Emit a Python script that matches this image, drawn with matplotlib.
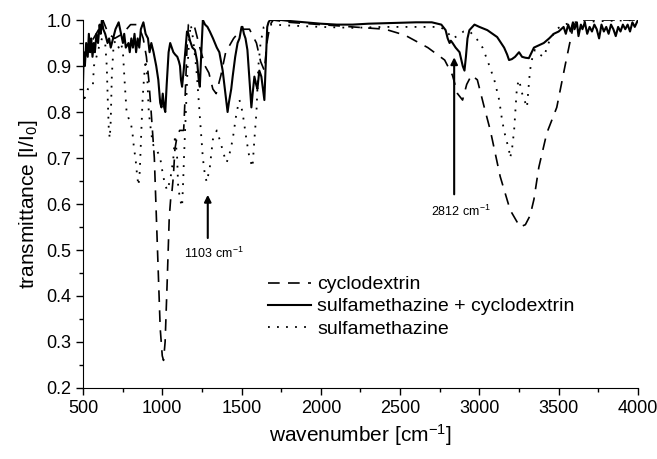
# IR spectra: cyclodextrin, sulfamethazine and their complex

import numpy as np
import matplotlib.pyplot as plt

plt.rcParams['font.family'] = ['Liberation Sans', 'DejaVu Sans']
plt.rcParams['mathtext.default'] = 'regular'

# cyclodextrin (dashed)
cd_x = [500, 550, 600, 625, 660, 700, 750, 800, 840, 870, 880, 900, 915, 930, 950, 970,
        987, 1000, 1008, 1018, 1030, 1044, 1055, 1062, 1070, 1080, 1095, 1110, 1125, 1135,
        1145, 1155, 1165, 1200, 1237, 1270, 1294, 1319, 1340, 1370, 1400, 1450, 1500, 1550,
        1594, 1620, 1644, 1660, 1680, 1700, 1800, 2000, 2200, 2406, 2531, 2675, 2781, 2830,
        2862, 2894, 2920, 2950, 2987, 3031, 3069, 3131, 3194, 3256, 3290, 3320, 3344, 3375,
        3425, 3488, 3540, 3594, 3650, 3800, 4000]
cd_y = [0.92, 0.95, 0.98, 1.0, 0.97, 0.96, 0.97, 0.99, 0.99, 0.97, 0.96, 0.92, 0.87, 0.80,
        0.70, 0.50, 0.33, 0.27, 0.26, 0.30, 0.42, 0.57, 0.62, 0.63, 0.66, 0.72, 0.75, 0.76,
        0.76, 0.76, 0.84, 0.93, 0.99, 0.99, 0.94, 0.90, 0.885, 0.85, 0.84, 0.88, 0.93, 0.96,
        0.98, 0.98, 0.95, 0.91, 0.89, 0.95, 0.99, 1.0, 0.995, 0.99, 0.985, 0.98, 0.967, 0.94,
        0.913, 0.88, 0.84, 0.826, 0.86, 0.88, 0.87, 0.81, 0.76, 0.66, 0.587, 0.55, 0.555,
        0.575, 0.61, 0.68, 0.754, 0.81, 0.9, 0.99, 1.0, 1.0, 1.0]

# sulfamethazine + cyclodextrin (solid)
mix_x = [500, 505, 512, 520, 530, 537, 545, 552, 560, 568, 575, 585, 595, 605, 612, 619,
         628, 640, 655, 665, 675, 690, 705, 725, 740, 752, 760, 770, 787, 795, 805, 815,
         825, 835, 845, 855, 865, 881, 895, 910, 920, 931, 945, 962, 975, 987, 995, 1003,
         1012, 1019, 1028, 1040, 1050, 1060, 1070, 1081, 1095, 1105, 1112, 1118, 1125, 1135,
         1145, 1156, 1165, 1175, 1190, 1206, 1220, 1230, 1237, 1245, 1256, 1270, 1285, 1300,
         1320, 1344, 1360, 1381, 1395, 1405, 1412, 1420, 1435, 1444, 1460, 1475, 1487, 1500,
         1506, 1515, 1525, 1537, 1550, 1562, 1570, 1581, 1592, 1600, 1612, 1625, 1635, 1644,
         1652, 1662, 1670, 1680, 1700, 1750, 1800, 1900, 2000, 2100, 2200, 2300, 2400, 2500,
         2600, 2700, 2760, 2787, 2800, 2812, 2820, 2831, 2850, 2875, 2895, 2906, 2915, 2925,
         2937, 2969, 3000, 3050, 3112, 3156, 3175, 3187, 3205, 3225, 3250, 3269, 3290, 3312,
         3330, 3344, 3375, 3406, 3440, 3469, 3500, 3531, 3545, 3560, 3575, 3590, 3600, 3615,
         3625, 3640, 3650, 3665, 3680, 3695, 3710, 3725, 3740, 3755, 3770, 3785, 3800, 3815,
         3830, 3845, 3860, 3875, 3890, 3905, 3920, 3935, 3950, 3965, 3980, 4000]
mix_y = [0.86, 0.93, 0.90, 0.95, 0.92, 0.97, 0.93, 0.96, 0.92, 0.95, 0.93, 0.97, 0.95,
         0.99, 0.97, 1.0, 0.98, 0.97, 0.95, 0.96, 0.94, 0.96, 0.98, 0.995, 0.97, 0.95, 0.97,
         0.94, 0.95, 0.93, 0.96, 0.94, 0.97, 0.93, 0.96, 0.94, 0.98, 0.995, 0.97, 0.96, 0.93,
         0.95, 0.93, 0.90, 0.87, 0.82, 0.81, 0.84, 0.81, 0.80, 0.86, 0.93, 0.95, 0.94, 0.93,
         0.925, 0.92, 0.91, 0.90, 0.87, 0.855, 0.89, 0.93, 0.975, 0.97, 0.955, 0.94, 0.935,
         0.91, 0.87, 0.855, 0.92, 1.0, 0.99, 0.985, 0.975, 0.96, 0.94, 0.93, 0.89, 0.85, 0.82,
         0.80, 0.82, 0.85, 0.877, 0.92, 0.95, 0.96, 0.985, 0.985, 0.97, 0.96, 0.935, 0.87,
         0.81, 0.84, 0.877, 0.86, 0.85, 0.89, 0.877, 0.85, 0.826, 0.90, 0.985, 0.995, 1.0,
         1.0, 1.0, 0.998, 0.995, 0.992, 0.99, 0.99, 0.992, 0.993, 0.994, 0.995, 0.995, 0.99,
         0.978, 0.96, 0.95, 0.955, 0.95, 0.94, 0.93, 0.90, 0.89, 0.92, 0.96, 0.978, 0.99,
         0.985, 0.978, 0.963, 0.94, 0.925, 0.913, 0.915, 0.92, 0.93, 0.92, 0.918, 0.917, 0.93,
         0.94, 0.945, 0.95, 0.96, 0.97, 0.975, 0.985, 0.97, 0.99, 0.975, 0.995, 0.98, 0.995,
         0.965, 0.99, 0.98, 0.995, 0.97, 0.985, 0.975, 0.99, 0.98, 0.96, 0.99, 0.975, 0.985,
         0.97, 0.99, 0.98, 0.965, 0.985, 0.975, 0.99, 0.98, 0.99, 0.975, 0.995, 0.985, 1.0]

# sulfamethazine (dotted)
sm_x = [500, 510, 531, 562, 569, 585, 600, 620, 640, 650, 656, 663, 669, 675, 682, 694,
        710, 725, 740, 752, 762, 775, 787, 800, 812, 822, 831, 842, 850, 858, 866, 875, 881,
        894, 905, 915, 925, 940, 960, 975, 987, 1006, 1020, 1031, 1050, 1069, 1081, 1094,
        1100, 1112, 1125, 1132, 1137, 1144, 1150, 1160, 1170, 1180, 1194, 1210, 1219, 1237,
        1256, 1270, 1281, 1300, 1319, 1344, 1362, 1381, 1395, 1406, 1425, 1444, 1469, 1487,
        1506, 1531, 1550, 1569, 1581, 1594, 1606, 1620, 1640, 1660, 1700, 1800, 2000, 2200,
        2400, 2600, 2750, 2787, 2830, 2860, 2900, 2940, 2987, 3020, 3050, 3094, 3125, 3144,
        3162, 3187, 3194, 3206, 3219, 3237, 3250, 3270, 3290, 3300, 3319, 3335, 3350, 3380,
        3406, 3444, 3487, 3530, 3600, 3800, 4000]
sm_y = [0.85, 0.83, 0.85, 0.855, 0.90, 0.92, 0.94, 0.96, 0.95, 0.90, 0.83, 0.76, 0.743,
        0.78, 0.88, 0.95, 0.955, 0.94, 0.95, 0.93, 0.87, 0.80, 0.787, 0.78, 0.755, 0.72, 0.70,
        0.66, 0.64, 0.67, 0.74, 0.82, 0.855, 0.913, 0.88, 0.80, 0.77, 0.73, 0.72, 0.71, 0.70,
        0.66, 0.64, 0.63, 0.652, 0.696, 0.75, 0.70, 0.64, 0.61, 0.594, 0.65, 0.70, 0.76, 0.81,
        0.90, 0.96, 0.99, 0.96, 0.91, 0.877, 0.79, 0.70, 0.66, 0.648, 0.68, 0.74, 0.76, 0.74,
        0.717, 0.70, 0.69, 0.71, 0.74, 0.80, 0.826, 0.80, 0.74, 0.70, 0.68, 0.74, 0.80, 0.90,
        0.95, 0.985, 0.99, 0.99, 0.988, 0.985, 0.983, 0.985, 0.985, 0.985, 0.978, 0.96, 0.965,
        0.975, 0.975, 0.957, 0.94, 0.913, 0.87, 0.826, 0.78, 0.75, 0.717, 0.70, 0.72, 0.76,
        0.855, 0.87, 0.84, 0.82, 0.81, 0.89, 0.92, 0.935, 0.925, 0.92, 0.957, 0.98, 0.99,
        0.995, 0.998, 1.0]

fig = plt.figure(figsize=(6.57, 4.59), dpi=100)
ax = fig.add_axes([0.1263, 0.1547, 0.8447, 0.8017])

ax.plot(cd_x, cd_y, color='black', lw=1.2, dashes=(7, 5), label='cyclodextrin')
ax.plot(mix_x, mix_y, color='black', lw=1.5, label='sulfamethazine + cyclodextrin')
ax.plot(sm_x, sm_y, color='black', lw=1.3, dashes=(1, 4), label='sulfamethazine')

ax.set_xlim(500, 4000)
ax.set_ylim(0.2, 1.0)
ax.set_xticks(np.arange(500, 4001, 500))
ax.set_yticks(np.arange(0.2, 1.01, 0.1))
ax.set_xticks(np.arange(750, 4000, 500), minor=True)
ax.set_yticks(np.arange(0.25, 1.0, 0.1), minor=True)
ax.yaxis.set_major_formatter(plt.FormatStrFormatter('%.1f'))
ax.tick_params(which='major', direction='out', length=5, width=1, labelsize=13)
ax.tick_params(which='minor', direction='out', length=3, width=1)
ax.spines['top'].set_visible(False)
ax.spines['right'].set_visible(False)

ax.set_xlabel('wavenumber [cm$^{-1}$]', fontsize=15)
ax.set_ylabel('transmittance [I/I$_0$]', fontsize=15)

# arrows marking bands
ax.annotate('', xy=(1287, 0.626), xytext=(1287, 0.52),
            arrowprops=dict(arrowstyle='-|>', color='black', lw=1.5, mutation_scale=10))
ax.text(1324, 0.493, '1103 cm$^{-1}$', fontsize=9, ha='center', va='center')
ax.annotate('', xy=(2841, 0.925), xytext=(2841, 0.615),
            arrowprops=dict(arrowstyle='-|>', color='black', lw=1.5, mutation_scale=10))
ax.text(2885, 0.585, '2812 cm$^{-1}$', fontsize=9, ha='center', va='center')

ax.legend(loc='upper left', bbox_to_anchor=(0.333, 0.305), frameon=False, fontsize=14,
          handlelength=2.2, labelspacing=0.23, handletextpad=0.35, borderpad=0,
          borderaxespad=0)

fig.savefig('out.png', dpi=100)
